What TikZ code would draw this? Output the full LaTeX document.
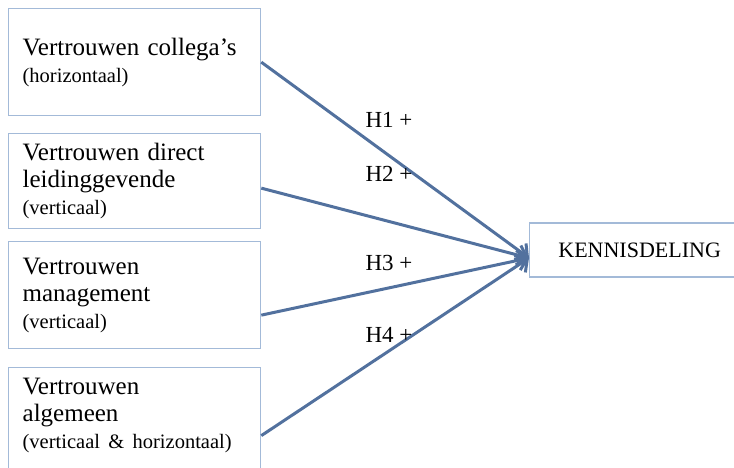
\documentclass[tikz,border=0pt]{standalone}
\usepackage{fontspec}
\setmainfont{Liberation Serif}
\usetikzlibrary{arrows.meta,calc}
\definecolor{boxline}{HTML}{A3BAD8}
\definecolor{arrowblue}{HTML}{52719E}
\newcommand{\boxfont}{\fontsize{25}{27}\selectfont}
\newcommand{\subfont}{\fontsize{20.5}{23}\selectfont}
\newcommand{\labfont}{\fontsize{22}{25}\selectfont}
\newcommand{\hypfont}{\fontsize{23}{25}\selectfont}
\tikzset{
  varbox/.style={draw=boxline,line width=1.3pt,anchor=north west,align=left,
    text width=224pt,inner xsep=14pt,inner ysep=2pt,font=\boxfont},
  outbox/.style={draw=boxline,line width=1.3pt,anchor=west,minimum width=220pt,
    minimum height=54pt,font=\labfont},
  hyp/.style={font=\hypfont},
  flow/.style={draw=arrowblue,line width=3pt,
    -{Straight Barb[length=9pt,width=20pt,line width=3pt]}}
}
\begin{document}
\begin{tikzpicture}[x=1pt,y=-1pt]
    \useasboundingbox (0,0) rectangle (734,468);
    \clip (0,0) rectangle (734,468);
    %% boxes left
    \node[varbox,minimum height=107pt] (colleg) at (8,8) {Vertrouwen collega's\\{\subfont (horizontaal)}};
    \node[varbox,minimum height=95pt] (direct) at (8,133) {Vertrouwen direct\\leidinggevende\\{\subfont (verticaal)}};
    \node[varbox,minimum height=107pt] (manag) at (8,241) {Vertrouwen\\management\\{\subfont (verticaal)}};
    \node[varbox,minimum height=120pt] (algem) at (8,367) {Vertrouwen\\algemeen\\{\subfont (verticaal \& horizontaal)}\\[1pt]\mbox{}};
    %% box right
    \node[outbox] (kennis) at (529,250) {KENNISDELING};
    \coordinate (tip) at ($(kennis.west)+(0,8)$);
    %% arrows
    \draw[flow] (colleg.east) -- (tip);
    \draw[flow] ($(direct.east)+(0,7)$) -- (tip);
    \draw[flow] ($(manag.east)+(0,20)$) -- (tip);
    \draw[flow] ($(algem.east)+(0,8)$) -- (tip);
    %% hypotheses
    \node[hyp] (h1) at (389,120) {H1 +};
    \node[hyp] (h2) at (389,174) {H2 +};
    \node[hyp] (h3) at (389,263) {H3 +};
    \node[hyp] (h4) at (389,335) {H4 +};
\end{tikzpicture}
\end{document}
